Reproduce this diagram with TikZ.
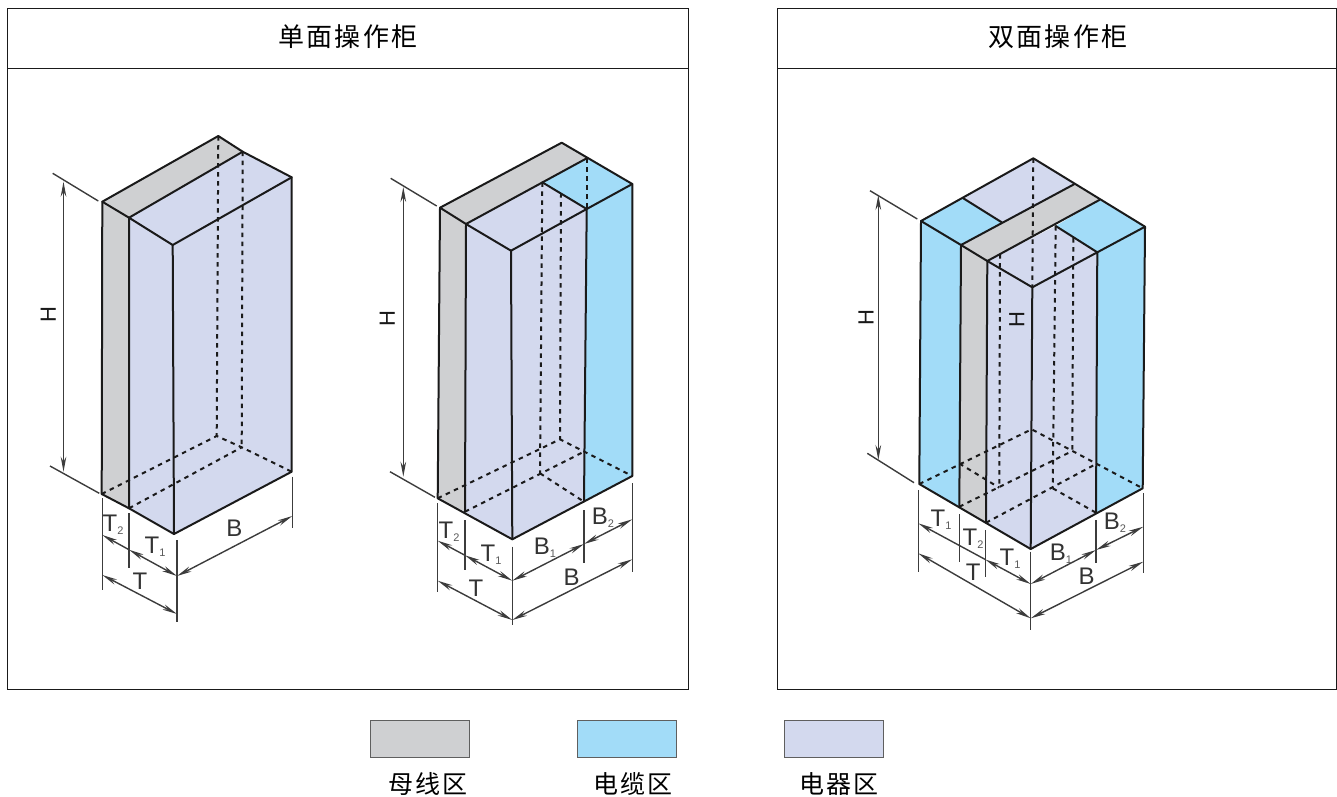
\documentclass[tikz,border=0pt]{standalone}
\usepackage{fontspec}
\setmainfont{Liberation Sans}
\newfontfamily\cjk[LetterSpace=8]{Noto Sans CJK SC}
\usetikzlibrary{arrows.meta}
\definecolor{busgray}{HTML}{CFD0D2}
\definecolor{cableblue}{HTML}{A2DCF8}
\definecolor{devlav}{HTML}{D3D9EE}
\definecolor{inkline}{HTML}{1A1A1A}
\newcommand{\dimsub}[2]{#1\raisebox{-3pt}{\fontsize{11}{11}\selectfont\color{black!65}#2}}
\tikzset{
  x=1pt,y=-1pt,
  panel/.style={draw=inkline,line width=0.8pt},
  edge/.style={draw=inkline,line width=2pt,line join=round,line cap=round},
  hid/.style={draw=inkline,line width=2pt,dash pattern=on 4.5pt off 4.5pt},
  ext/.style={draw=inkline!85,line width=1.4pt},
  dimline/.style={draw=inkline!85,line width=1.4pt},
  both/.style={dimline,{Stealth[length=15pt,width=5.6pt]}-{Stealth[length=15pt,width=5.6pt]}},
  lft/.style={dimline,{Stealth[length=15pt,width=5.6pt]}-},
  rgt/.style={dimline,-{Stealth[length=15pt,width=5.6pt]}},
  dimtext/.style={font=\fontsize{24}{24}\selectfont,text=black!80,inner sep=0pt},
  htext/.style={font=\fontsize{22}{22}\selectfont,text=black!90,inner sep=0pt,rotate=90},
  title/.style={font=\cjk\fontsize{26}{26}\selectfont,text=black,inner sep=0pt},
  legendtext/.style={font=\cjk\fontsize{25}{25}\selectfont,text=black,inner sep=0pt},
  swatch/.style={draw=inkline!70,line width=0.5pt}
}
\begin{document}
\begin{tikzpicture}
\useasboundingbox (0,0) rectangle (1337,796);
% panels
\draw[panel] (7,8) rectangle (688,689);
\draw[panel] (7,68) -- (688,68);
\draw[panel] (777,8) rectangle (1336,689);
\draw[panel] (777,68) -- (1336,68);
\node[title] (t1) at (348,37) {单面操作柜};
\node[title] (t2) at (1058,37) {双面操作柜};

%% ---------- cabinet A
\coordinate (aB) at (218.3,136);
\coordinate (aC) at (242.7,151.7);
\coordinate (aR) at (291.7,177.3);
\coordinate (aF) at (172.7,245);
\coordinate (aG) at (129,217.7);
\coordinate (aL) at (102.3,201.7);
\coordinate (aLb) at (101.7,494);
\coordinate (aGb) at (129,508.3);
\coordinate (aFb) at (174,534);
\coordinate (aRb) at (291.7,471.7);
\coordinate (aBb) at (216.7,436);
\coordinate (aCb) at (241.7,447.3);
\fill[busgray] (aL)--(aB)--(aC)--(aG)--(aGb)--(aLb)--cycle;
\fill[devlav] (aG)--(aC)--(aR)--(aRb)--(aFb)--(aGb)--cycle;
\draw[hid] (aB)--(aBb); \draw[hid] (aC)--(aCb);
\draw[hid] (aLb)--(aBb)--(aCb)--(aRb); \draw[hid] (aGb)--(aCb);
\draw[edge] (aL)--(aB)--(aC)--(aR)--(aRb)--(aFb)--(aGb)--(aLb)--cycle;
\draw[edge] (aC)--(aG)--(aF)--(aR);
\draw[edge] (aL)--(aG)--(aGb);
\draw[edge] (aF)--(aFb);
% dims A
\draw[ext] (52.7,173.3)--(98.3,201);
\draw[ext] (50,466)--(99.3,493.3);
\draw[both] (63.5,181.7)--(63.5,471.7);
\node[htext] (aH) at (48.3,315) {H};
\draw[ext] (102.3,498)--(102.3,590);
\draw[ext] (129,513)--(129,568);
\draw[ext] (177,540)--(177,621.7);
\draw[ext] (292.3,476.7)--(292.3,528);
\coordinate (ad0) at (102.3,535);
\coordinate (ad1) at (129,549.7);
\coordinate (ad2) at (177,576);
\coordinate (ad3) at (292.3,516);
\coordinate (ad4) at (102.3,575);
\coordinate (ad5) at (177,614);
\draw[lft] (ad0)--(ad1);
\draw[both] (ad1)--(ad2);
\draw[both] (ad2)--(ad3);
\draw[both] (ad4)--(ad5);
\node[dimtext] (at2) at (113,525) {\dimsub{T}{2}};
\node[dimtext] (at1) at (155,546.5) {\dimsub{T}{1}};
\node[dimtext] (at) at (140,581) {T};
\node[dimtext] (ab) at (234.3,528) {B};

%% ---------- cabinet B
\coordinate (bB) at (561.7,142.7);
\coordinate (bC) at (586.7,158.3);
\coordinate (bR) at (632.3,184);
\coordinate (bS) at (586.7,209);
\coordinate (bM) at (542.3,182.3);
\coordinate (bN) at (561,193);
\coordinate (bF) at (511,250.7);
\coordinate (bG) at (466,224);
\coordinate (bL) at (440,207.7);
\coordinate (bLb) at (437.7,498.3);
\coordinate (bGb) at (465,511.7);
\coordinate (bFb) at (512.3,539.3);
\coordinate (bSb) at (584,501.7);
\coordinate (bRb) at (632.3,476);
\coordinate (bMb) at (540,473.3);
\coordinate (bCb) at (584,451.7);
\coordinate (bNb) at (560,439.3);
\fill[busgray] (bL)--(bB)--(bC)--(bG)--(bGb)--(bLb)--cycle;
\fill[devlav] (bG)--(bM)--(bS)--(bSb)--(bFb)--(bGb)--cycle;
\fill[cableblue] (bM)--(bC)--(bR)--(bRb)--(bSb)--(bS)--cycle;
\draw[hid] (bM)--(bMb); \draw[hid] (bN)--(bNb); \draw[hid] (bC)--(bS);
\draw[hid] (bLb)--(bNb)--(bRb); \draw[hid] (bGb)--(bCb); \draw[hid] (bMb)--(bSb);
\draw[edge] (bL)--(bB)--(bR)--(bRb)--(bFb)--(bLb)--cycle;
\draw[edge] (bL)--(bG)--(bGb);
\draw[edge] (bG)--(bC);
\draw[edge] (bG)--(bF)--(bFb);
\draw[edge] (bF)--(bS)--(bR);
\draw[edge] (bM)--(bS)--(bSb);
% dims B
\draw[ext] (390.7,178.3)--(436.7,206);
\draw[ext] (390,471.7)--(435,497.3);
\draw[both] (403.3,187)--(403.3,476.7);
\node[htext] (bH) at (387.3,319) {H};
\draw[ext] (437.7,503)--(437.7,591.7);
\draw[ext] (465,520)--(465,570);
\draw[ext] (512.3,546.7)--(512.3,625);
\draw[ext] (584,510)--(584,563);
\draw[ext] (632.3,483.3)--(632.3,571.7);
\coordinate (bd0) at (437.7,540.7);
\coordinate (bd1) at (465,555.3);
\coordinate (bd2) at (512.3,580.7);
\coordinate (bd3) at (584,544);
\coordinate (bd4) at (632.3,519.3);
\coordinate (bd5) at (437.7,580.7);
\coordinate (bd6) at (512.3,620);
\coordinate (bd7) at (632.3,559.3);
\draw[lft] (bd0)--(bd1);
\draw[both] (bd1)--(bd2);
\draw[both] (bd2)--(bd3);
\draw[both] (bd3)--(bd4);
\draw[both] (bd5)--(bd6);
\draw[both] (bd6)--(bd7);
\node[dimtext] (bt2) at (449,531.7) {\dimsub{T}{2}};
\node[dimtext] (bt1) at (491,555) {\dimsub{T}{1}};
\node[dimtext] (bb1) at (545,547.3) {\dimsub{B}{1}};
\node[dimtext] (bb2) at (603,517.7) {\dimsub{B}{2}};
\node[dimtext] (bt) at (476,588) {T};
\node[dimtext] (bb) at (571.7,577.3) {B};

%% ---------- cabinet C
\coordinate (cB) at (1033.3,158.3);
\coordinate (cC) at (1074,184.3);
\coordinate (cD) at (1099.3,200);
\coordinate (cR) at (1145,226.7);
\coordinate (cS) at (1097.3,252.3);
\coordinate (cM) at (1055.7,226);
\coordinate (cF) at (1032.3,287.3);
\coordinate (cG) at (987.3,261);
\coordinate (cH) at (961,245);
\coordinate (cL) at (921,221);
\coordinate (cP) at (963.3,198.3);
\coordinate (cQ) at (1001.7,222.3);
\coordinate (cU) at (1000,254);
\coordinate (cV) at (1073.3,238);
\coordinate (cLb) at (919.3,484);
\coordinate (cHb) at (959.3,506.7);
\coordinate (cGb) at (986,522.7);
\coordinate (cFb) at (1030.7,549);
\coordinate (cSb) at (1096,512.7);
\coordinate (cRb) at (1142.7,488.3);
\coordinate (cBb) at (1031.7,429.3);
\coordinate (cVb) at (1072.3,451);
\coordinate (cTb) at (1096,464);
\coordinate (cUb) at (999.3,487.7);
\coordinate (cMb) at (1052.7,488.3);
\coordinate (cWb) at (959.3,463.5);
\fill[devlav] (cP)--(cB)--(cC)--(cQ)--cycle;
\fill[cableblue] (cL)--(cP)--(cQ)--(cH)--(cHb)--(cLb)--cycle;
\fill[busgray] (cH)--(cC)--(cD)--(cG)--(cGb)--(cHb)--cycle;
\fill[devlav] (cG)--(cM)--(cS)--(cSb)--(cFb)--(cGb)--cycle;
\fill[cableblue] (cM)--(cD)--(cR)--(cRb)--(cSb)--(cS)--cycle;
\draw[hid] (cB)--(cF);
\draw[hid] (cU)--(cUb);
\draw[hid] (cM)--(cMb);
\draw[hid] (cV)--(cVb);
\draw[hid] (cLb)--(cBb)--(cRb);
\draw[hid] (cHb)--(cVb);
\draw[hid] (cGb)--(cTb);
\draw[hid] (cWb)--(cUb);
\draw[hid] (cMb)--(cSb);
\draw[edge] (cL)--(cB)--(cR)--(cRb)--(cFb)--(cLb)--cycle;
\draw[edge] (cL)--(cH)--(cHb);
\draw[edge] (cH)--(cC);
\draw[edge] (cP)--(cQ);
\draw[edge] (cD)--(cG)--(cGb);
\draw[edge] (cH)--(cG)--(cF)--(cFb);
\draw[edge] (cF)--(cS)--(cSb);
\draw[edge] (cM)--(cS)--(cR);
% dims C
\draw[ext] (870,190.7)--(917.3,219);
\draw[ext] (867.3,453.3)--(914,482.7);
\draw[both] (878.3,195)--(878.3,460);
\node[htext] (cHl) at (866,318) {H};
\node[htext] (cHi) at (1016.7,320) {H};
\draw[ext] (918.3,490)--(918.3,571.7);
\draw[ext] (959.3,514)--(959.3,561.7);
\draw[ext] (985.3,530)--(985.3,576.7);
\draw[ext] (1030.7,551.7)--(1030.7,630);
\draw[ext] (1096,520)--(1096,563.3);
\draw[ext] (1143.3,493.3)--(1143.3,573.3);
\coordinate (cd0) at (918.3,523.3);
\coordinate (cd1) at (959.3,545.5);
\coordinate (cd2) at (985.3,559.5);
\coordinate (cd3) at (1030.7,584);
\coordinate (cd4) at (1096,550);
\coordinate (cd5) at (1143.3,526.7);
\coordinate (cd6) at (918.3,553.3);
\coordinate (cd7) at (1030.7,618.3);
\coordinate (cd8) at (1143.3,561.7);
\draw[lft] (cd0)--(cd2);
\draw[both] (cd2)--(cd3);
\draw[both] (cd3)--(cd4);
\draw[both] (cd4)--(cd5);
\draw[both] (cd6)--(cd7);
\draw[both] (cd7)--(cd8);
\node[dimtext] (ct1) at (941,519.3) {\dimsub{T}{1}};
\node[dimtext] (ct2) at (973,538.3) {\dimsub{T}{2}};
\node[dimtext] (ct3) at (1010,558.3) {\dimsub{T}{1}};
\node[dimtext] (cb1) at (1061,554) {\dimsub{B}{1}};
\node[dimtext] (cb2) at (1115,522.7) {\dimsub{B}{2}};
\node[dimtext] (ct) at (973.3,572.7) {T};
\node[dimtext] (cb) at (1086.7,576.7) {B};

%% ---------- legend
\node[swatch,fill=busgray,minimum width=99pt,minimum height=37pt,inner sep=0pt] (k1) at (419.5,738.5) {};
\node[swatch,fill=cableblue,minimum width=99pt,minimum height=37pt,inner sep=0pt] (k2) at (626.5,738.5) {};
\node[swatch,fill=devlav,minimum width=99pt,minimum height=37pt,inner sep=0pt] (k3) at (833.5,738.5) {};
\node[legendtext] (l1) at (428,784) {母线区};
\node[legendtext] (l2) at (633,784) {电缆区};
\node[legendtext] (l3) at (839,784) {电器区};
\end{tikzpicture}
\end{document}
